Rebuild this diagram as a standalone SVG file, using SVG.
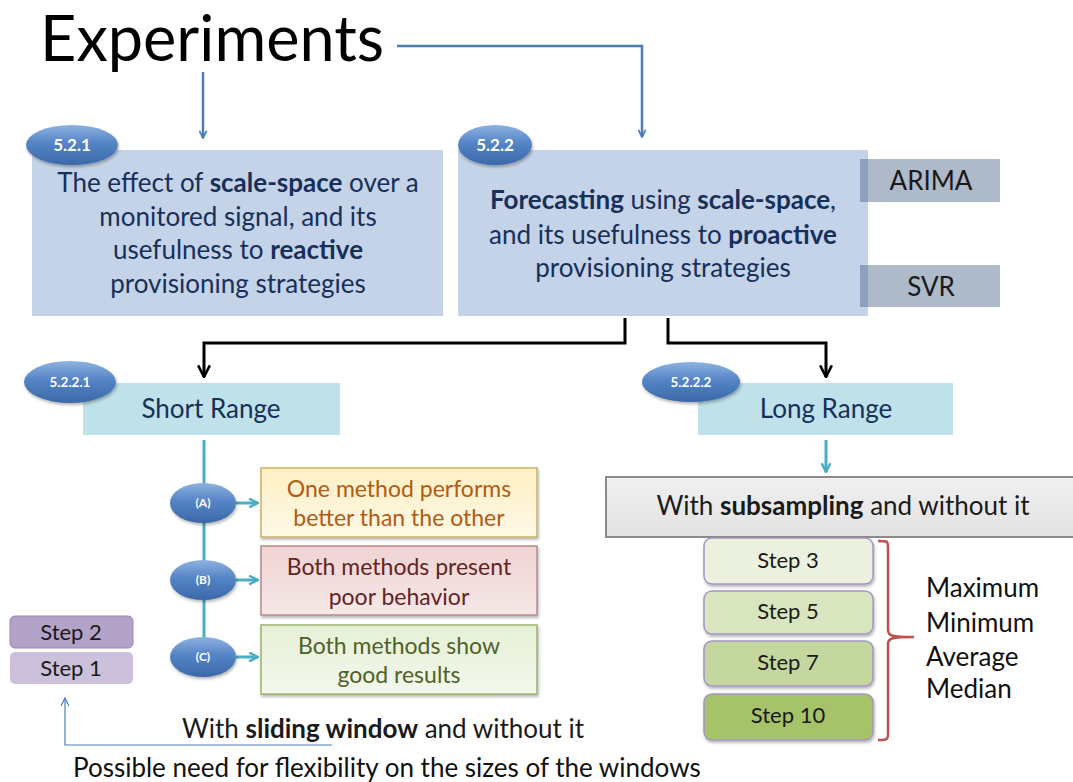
<svg xmlns="http://www.w3.org/2000/svg" width="1073" height="782" viewBox="0 0 1073 782">
<defs>
<linearGradient id="gEll" x1="0" y1="0" x2="0" y2="1">
<stop offset="0" stop-color="#8EB2E0"/>
<stop offset="0.45" stop-color="#5585C6"/>
<stop offset="1" stop-color="#3A68A8"/>
</linearGradient>
<linearGradient id="gA" x1="0" y1="0" x2="0" y2="1"><stop offset="0" stop-color="#FEF0C4"/><stop offset="1" stop-color="#FEF8E6"/></linearGradient>
<linearGradient id="gB" x1="0" y1="0" x2="0" y2="1"><stop offset="0" stop-color="#EFD3D2"/><stop offset="1" stop-color="#F6E8E8"/></linearGradient>
<linearGradient id="gC" x1="0" y1="0" x2="0" y2="1"><stop offset="0" stop-color="#E6F0D6"/><stop offset="1" stop-color="#F3F8EC"/></linearGradient>
<linearGradient id="gSub" x1="0" y1="0" x2="0" y2="1"><stop offset="0" stop-color="#F0F0F0"/><stop offset="1" stop-color="#E2E2E2"/></linearGradient>
<filter id="sh" x="-20%" y="-20%" width="140%" height="150%"><feDropShadow dx="1" dy="2" stdDeviation="1.5" flood-color="#000" flood-opacity="0.3"/></filter>
<marker id="aBlue" viewBox="0 0 10 10" refX="9" refY="5" markerWidth="9" markerHeight="9" markerUnits="userSpaceOnUse" orient="auto"><path d="M1,1 L9,5 L1,9" fill="none" stroke="#4A7EBB" stroke-width="2"/></marker>
<marker id="aBlk" viewBox="0 0 12 12" refX="11" refY="6" markerWidth="14" markerHeight="14" markerUnits="userSpaceOnUse" orient="auto"><path d="M1,1 L11,6 L1,11" fill="none" stroke="#000" stroke-width="2.2"/></marker>
<marker id="aTeal" viewBox="0 0 10 10" refX="9" refY="5" markerWidth="11" markerHeight="11" markerUnits="userSpaceOnUse" orient="auto"><path d="M1,1 L9,5 L1,9" fill="none" stroke="#4BACC6" stroke-width="2.2"/></marker>
<marker id="aThin" viewBox="0 0 10 10" refX="9" refY="5" markerWidth="10" markerHeight="10" markerUnits="userSpaceOnUse" orient="auto"><path d="M1,1 L9,5 L1,9" fill="none" stroke="#4A7EBB" stroke-width="1.2"/></marker>
</defs>
<style>
text{font-family:Lato,"Liberation Sans",sans-serif;}
.t{font-size:26px;fill:#17305A;text-anchor:middle;}
.bx{font-size:23px;text-anchor:middle;}
.b{font-weight:bold;}
.el{fill:url(#gEll);filter:url(#sh);}
.elt{font-size:17px;font-weight:bold;fill:#fff;text-anchor:middle;}
.el4{font-size:13.5px;font-weight:bold;fill:#fff;text-anchor:middle;}
.elc{font-size:12px;font-weight:bold;fill:#fff;text-anchor:middle;}
.ct{font-size:26px;fill:#1A1A1A;text-anchor:middle;}
.st{font-size:22px;fill:#1A1A1A;text-anchor:middle;}
.step{stroke:#A595C4;stroke-width:1.5;filter:url(#sh);}
</style>
<rect width="1073" height="782" fill="#fff"/>

<g id="title"><text x="40" y="61" font-size="63" fill="#000">Experiments</text></g>

<g id="connectors" fill="none">
<path d="M397,46 H642 V137" stroke="#4A7EBB" stroke-width="2.5" marker-end="url(#aBlue)"/>
<path d="M203,72 V138" stroke="#4A7EBB" stroke-width="2.5" marker-end="url(#aBlue)"/>
<path d="M625,318 V343 H204 V377" stroke="#000" stroke-width="3" marker-end="url(#aBlk)"/>
<path d="M668,318 V343 H826 V377" stroke="#000" stroke-width="3" marker-end="url(#aBlk)"/>
<path d="M826,440 V472" stroke="#4BACC6" stroke-width="3" marker-end="url(#aTeal)"/>
<path d="M204,440 V660" stroke="#4BACC6" stroke-width="3"/>
<path d="M236,503 H258" stroke="#4BACC6" stroke-width="3" marker-end="url(#aTeal)"/>
<path d="M236,580 H258" stroke="#4BACC6" stroke-width="3" marker-end="url(#aTeal)"/>
<path d="M236,657 H258" stroke="#4BACC6" stroke-width="3" marker-end="url(#aTeal)"/>
<path d="M332,745 H65 V698" stroke="#4A7EBB" stroke-width="1.2" marker-end="url(#aThin)"/>
<path d="M878,541 C888,541 888,541 888,548 V630 C888,636 892,637 914,637 C892,637 888,638 888,644 V733 C888,739 888,740 878,740" stroke="#C0504D" stroke-width="2.5"/>
</g>

<g id="n521">
<rect x="32" y="150" width="411" height="166" fill="#C4D3E8"/>
<text class="t" y="192"><tspan x="238">The effect of <tspan class="b">scale-space</tspan> over a</tspan><tspan x="238" dy="34">monitored signal, and its</tspan><tspan x="238" dy="33">usefulness to <tspan class="b">reactive</tspan></tspan><tspan x="238" dy="34">provisioning strategies</tspan></text>
<ellipse class="el" cx="72" cy="145" rx="46" ry="20"/>
<text class="elt" x="72" y="151">5.2.1</text>
</g>

<g id="n522">
<rect x="458" y="150" width="410" height="166" fill="#C4D3E8"/>
<text class="t" y="209"><tspan x="663"><tspan class="b">Forecasting</tspan> using <tspan class="b">scale-space</tspan>,</tspan><tspan x="663" dy="35">and its usefulness to <tspan class="b">proactive</tspan></tspan><tspan x="663" dy="33">provisioning strategies</tspan></text>
<ellipse class="el" cx="495" cy="145" rx="37" ry="20"/>
<text class="elt" x="495" y="151">5.2.2</text>
</g>

<g id="arima">
<rect x="860" y="159" width="140" height="43" fill="#AEB9C9"/>
<rect x="860" y="159" width="8" height="43" fill="#8DA1BE"/>
<text class="ct" x="931" y="190">ARIMA</text>
</g>
<g id="svr">
<rect x="860" y="265" width="140" height="42" fill="#AEB9C9"/>
<rect x="860" y="265" width="8" height="42" fill="#8DA1BE"/>
<text class="ct" x="931" y="296">SVR</text>
</g>

<g id="short">
<rect x="83" y="383" width="257" height="52" fill="#BFE1E9"/>
<text class="t" x="211" y="418" fill="#1F3864">Short Range</text>
<ellipse class="el" cx="70" cy="382" rx="46" ry="21"/>
<text class="el4" x="70" y="387">5.2.2.1</text>
</g>

<g id="long">
<rect x="698" y="383" width="255" height="52" fill="#BFE1E9"/>
<text class="t" x="826" y="418">Long Range</text>
<ellipse class="el" cx="691" cy="382" rx="49" ry="20"/>
<text class="el4" x="691" y="387">5.2.2.2</text>
</g>

<g id="subsampling">
<rect x="606" y="477" width="470" height="60" fill="url(#gSub)" stroke="#8A8A8A" stroke-width="2"/>
<text class="ct" x="843" y="515">With <tspan class="b">subsampling</tspan> and without it</text>
</g>

<g id="steps">
<rect class="step" x="704" y="538" width="169" height="46" rx="8" fill="#EBF1DE"/>
<text class="st" x="788" y="568">Step 3</text>
<rect class="step" x="704" y="591" width="169" height="43" rx="8" fill="#D8E5BF"/>
<text class="st" x="788" y="619">Step 5</text>
<rect class="step" x="704" y="641" width="169" height="45" rx="8" fill="#C4D79E"/>
<text class="st" x="788" y="670">Step 7</text>
<rect class="step" x="704" y="694" width="169" height="46" rx="8" fill="#A6C36A"/>
<text class="st" x="788" y="723">Step 10</text>
</g>

<g id="stats">
<text font-size="26" fill="#111"><tspan x="926" y="597">Maximum</tspan><tspan x="926" y="632">Minimum</tspan><tspan x="926" y="666">Average</tspan><tspan x="926" y="698">Median</tspan></text>
</g>

<g id="caseA">
<ellipse class="el" cx="203" cy="503" rx="33" ry="20"/>
<text class="elc" x="203" y="507">(A)</text>
<rect x="261" y="468" width="276" height="69" fill="url(#gA)" stroke="#C9B26B" stroke-width="1.5" filter="url(#sh)"/>
<text class="bx" fill="#B35A12"><tspan x="399" y="497">One method performs</tspan><tspan x="399" y="526">better than the other</tspan></text>
</g>
<g id="caseB">
<ellipse class="el" cx="203" cy="580" rx="33" ry="20"/>
<text class="elc" x="203" y="584">(B)</text>
<rect x="261" y="546" width="276" height="69" fill="url(#gB)" stroke="#B48A89" stroke-width="1.5" filter="url(#sh)"/>
<text class="bx" fill="#632423"><tspan x="399" y="575">Both methods present</tspan><tspan x="399" y="605">poor behavior</tspan></text>
</g>
<g id="caseC">
<ellipse class="el" cx="203" cy="657" rx="33" ry="20"/>
<text class="elc" x="203" y="661">(C)</text>
<rect x="261" y="625" width="276" height="69" fill="url(#gC)" stroke="#9BB36B" stroke-width="1.5" filter="url(#sh)"/>
<text class="bx" fill="#4F6228"><tspan x="399" y="654">Both methods show</tspan><tspan x="399" y="683">good results</tspan></text>
</g>

<g id="window-steps">
<rect x="10" y="616" width="123" height="32" rx="5" fill="#B3A2C7" stroke="#9A86B6" stroke-width="1"/>
<text class="st" x="71" y="640">Step 2</text>
<rect x="10" y="652" width="123" height="32" rx="5" fill="#CCC1DA"/>
<text class="st" x="71" y="676">Step 1</text>
</g>

<g id="sliding">
<text class="ct" x="383" y="738">With <tspan class="b">sliding window</tspan> and without it</text>
<text font-size="26" fill="#111" x="73" y="777">Possible need for flexibility on the sizes of the windows</text>
</g>
</svg>
